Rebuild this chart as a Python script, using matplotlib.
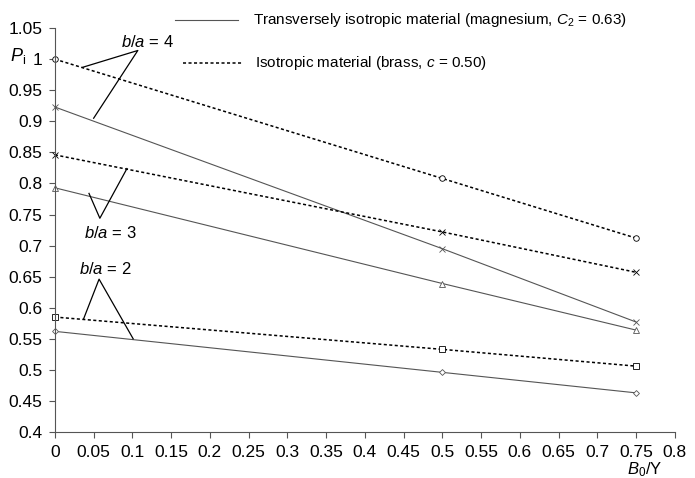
import numpy as np
import matplotlib.pyplot as plt

# B0/Y values where P_i was computed
b0y = [0.0, 0.5, 0.75]

# transversely isotropic (magnesium), solid lines
trans_ba4 = [0.923, 0.695, 0.577]
trans_ba3 = [0.793, 0.639, 0.564]
trans_ba2 = [0.562, 0.496, 0.463]

# isotropic (brass), dotted lines
iso_ba4 = [1.0, 0.808, 0.712]
iso_ba3 = [0.846, 0.722, 0.657]
iso_ba2 = [0.585, 0.533, 0.506]

xticks = np.arange(0, 0.801, 0.05)
yticks = np.arange(0.4, 1.051, 0.05)

plt.rcParams['font.family'] = ['Liberation Sans', 'DejaVu Sans']
plt.rcParams['mathtext.fontset'] = 'custom'
plt.rcParams['mathtext.it'] = 'Liberation Sans:italic'
plt.rcParams['mathtext.rm'] = 'Liberation Sans'

fig = plt.figure(figsize=(6.95, 4.78), dpi=100)
ax = fig.add_axes([0.079, 0.0962, 0.892, 0.845])

solid = dict(color='#555555', lw=0.8, ls='-', ms=4, mfc='white', mew=0.6, clip_on=False)
dotted = dict(color='black', lw=1.1, ls=(0, (2, 1.6)), ms=4, mfc='white', mew=0.6, clip_on=False)

ax.plot(b0y, iso_ba4, marker='o', **dotted)
ax.plot(b0y, trans_ba4, marker='x', **solid)
ax.plot(b0y, iso_ba3, marker='x', **dotted)
ax.plot(b0y, trans_ba3, marker='^', **solid)
ax.plot(b0y, iso_ba2, marker='s', **dotted)
ax.plot(b0y, trans_ba2, marker='D', **{**solid, 'ms': 3})

# b/a callouts
lk = dict(color='black', lw=0.9)
ax.plot([0.036, 0.107, 0.050], [0.987, 1.014, 0.905], **lk)
ax.text(0.12, 1.027, '$b/a$ = 4', ha='center', va='center', fontsize=12)
ax.plot([0.044, 0.058, 0.093], [0.784, 0.744, 0.824], **lk)
ax.text(0.072, 0.72, '$b/a$ = 3', ha='center', va='center', fontsize=12)
ax.plot([0.037, 0.057, 0.101], [0.582, 0.646, 0.550], **lk)
ax.text(0.065, 0.662, '$b/a$ = 2', ha='center', va='center', fontsize=12)

ax.set_xlim(0, 0.8)
ax.set_ylim(0.4, 1.05)
ax.set_xticks(xticks)
ax.set_xticklabels(['%g' % v for v in xticks], fontsize=12.5)
ax.set_yticks(yticks)
ax.set_yticklabels(['%g' % v for v in yticks], fontsize=12.5)
ax.tick_params(direction='out', length=4, width=0.8, color='#555555', pad=5)
for s in ['top', 'right']:
    ax.spines[s].set_visible(False)
for s in ['left', 'bottom']:
    ax.spines[s].set_color('#555555')
    ax.spines[s].set_linewidth(0.8)

fig.text(18 / 695, 1 - 56 / 478, '$P_\\mathrm{i}$', fontsize=13, ha='center', va='center')
fig.text(645 / 695, 1 - 470 / 478, '$B_0$/Y', fontsize=12, ha='center', va='center')

# legend drawn by hand like the original
fig.add_artist(plt.Line2D([175 / 695, 238 / 695], [1 - 20 / 478] * 2, color='#555555', lw=0.8))
fig.text(253 / 695, 1 - 20 / 478, 'Transversely isotropic material (magnesium, $C_2$ = 0.63)',
         fontsize=11, va='center')
fig.add_artist(plt.Line2D([183 / 695, 243 / 695], [1 - 63 / 478] * 2, color='black', lw=1.1,
                          ls=(0, (2, 1.6))))
fig.text(255 / 695, 1 - 63 / 478, 'Isotropic material (brass, $c$ = 0.50)', fontsize=11, va='center')

fig.savefig('out.png', dpi=100)
